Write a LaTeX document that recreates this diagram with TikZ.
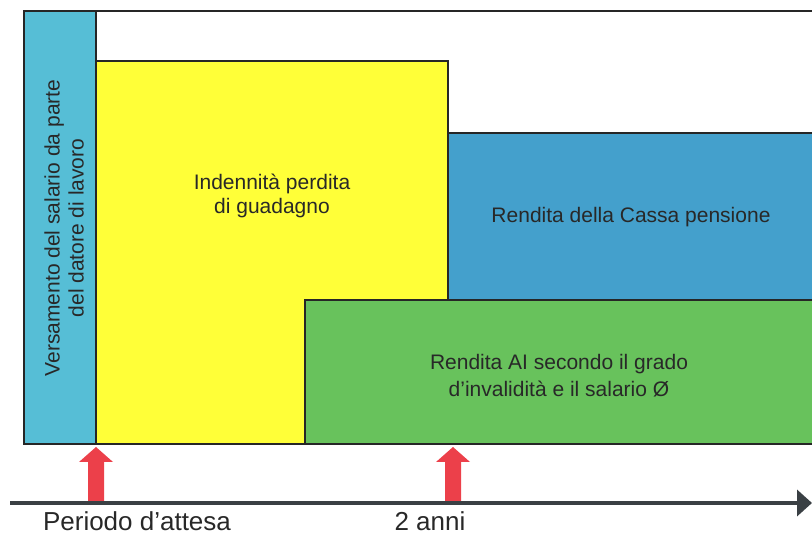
\documentclass[tikz,border=0pt]{standalone}
\usepackage{fontspec}
\setmainfont{Liberation Sans}
\usepackage{tikz}
\usetikzlibrary{arrows.meta}

\definecolor{tealbox}{RGB}{86,190,214}
\definecolor{yellowbox}{RGB}{255,255,56}
\definecolor{bluebox}{RGB}{68,160,204}
\definecolor{greenbox}{RGB}{104,194,92}
\definecolor{redarrow}{RGB}{236,64,74}
\definecolor{axisgrey}{RGB}{58,64,68}
\definecolor{textgrey}{RGB}{40,40,40}

\newcommand{\boxfont}{\fontsize{21}{24}\selectfont}
\newcommand{\axisfont}{\fontsize{26}{30}\selectfont}

\begin{document}
\begin{tikzpicture}[x=1pt,y=-1pt,
	box/.style={draw=black!85, line width=1.2pt},
	lbl/.style={text=textgrey, align=center, inner sep=0pt, font=\boxfont}]
			\useasboundingbox (0,0) rectangle (812,537);
			\clip (0,0) rectangle (812,537);

			\coordinate (tl) at (24,11);
			\coordinate (tr) at (830,11);
			\coordinate (wait) at (96,503);
			\coordinate (two) at (453,503);
			\coordinate (axstart) at (10,503);
			\coordinate (axend) at (812,503);

			\draw [box] (tl) -- (tr);
			\draw [box, fill=tealbox] (tl) rectangle (96,444);
			\draw [box, fill=yellowbox] (96,61) rectangle (448,444);
			\draw [box, fill=bluebox] (448,133) rectangle (830,300);
			\draw [box, fill=greenbox] (305,300) rectangle (830,444);

			\node [lbl, rotate=90] (salario) at (64,228) {Versamento del salario da parte\\del datore di lavoro};
			\node [lbl] (indennita) at (272,196) {Indennità perdita\\di guadagno};
			\node [lbl] (cassa) at (631,217) {Rendita della Cassa pensione};
			\node [lbl, font=\fontsize{21}{27}\selectfont] (rendita) at (559,376) {Rendita AI secondo il grado\\d’invalidità e il salario Ø};

			\foreach \t in {wait,two}
				\fill [redarrow] (\t) ++(-8,0) -- ++(0,-41) -- ++(-9,0) -- ++(17,-15) -- ++(17,15) -- ++(-9,0) -- ++(0,41) -- cycle;

			\draw [axisgrey, line width=4pt, -{Triangle[length=15pt,width=26pt]}] (axstart) -- (axend);

			\node [text=textgrey, font=\axisfont, inner sep=0pt] (waitlbl) at (137,521) {Periodo d’attesa};
			\node [text=textgrey, font=\axisfont, inner sep=0pt] (twolbl) at (430,521) {2 anni};

		\end{tikzpicture}
\end{document}
